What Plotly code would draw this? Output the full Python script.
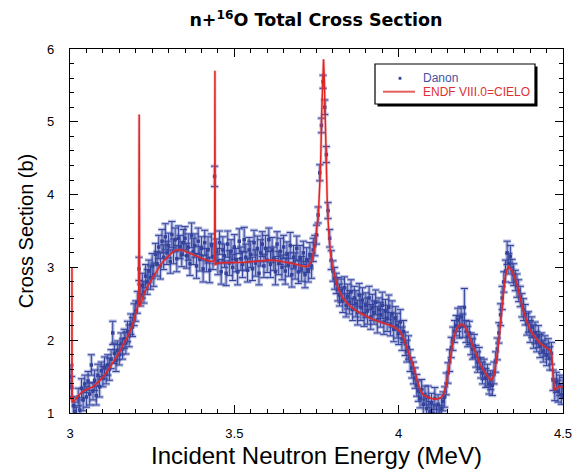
import numpy as np
import plotly.graph_objects as go

# ---------------- Danon data (E grid 3.000 .. 4.500 step 0.005) ----------------
danon_E = np.round(np.arange(3.0, 4.5001, 0.005), 3)
danon_xs = [
    1.50, 1.36, 1.10, 1.02, 0.94, 1.22, 1.04, 1.34, 1.18, 1.40,
    1.22, 1.44, 1.26, 1.66, 1.30, 1.45, 1.24, 1.52, 1.36, 1.58,
    1.50, 1.62, 1.53, 1.66, 1.60, 1.74, 2.10, 1.82, 1.72, 1.86,
    1.80, 1.95, 1.88, 2.02, 1.96, 2.12, 2.06, 2.22, 2.18, 2.35,
    2.40, 2.52, 2.98, 2.62, 2.75, 2.66, 2.88, 2.80, 2.95, 2.86,
    3.02, 2.90, 3.18, 3.05, 3.28, 3.02, 3.36, 3.14, 3.42, 3.20,
    3.30, 3.08, 3.45, 3.22, 3.38, 3.12, 3.40, 3.28, 3.18, 3.34,
    3.40, 3.16, 3.28, 3.05, 3.44, 3.22, 3.30, 3.02, 3.36, 3.12,
    3.26, 2.98, 3.34, 3.10, 3.24, 2.96, 3.30, 3.15, 4.25, 3.22,
    3.08, 3.34, 2.94, 3.24, 3.16, 2.92, 3.32, 3.06, 3.22, 3.00,
    3.28, 3.10, 2.94, 3.36, 3.12, 3.04, 3.38, 3.14, 2.96, 3.24,
    3.18, 2.98, 3.34, 3.06, 3.26, 2.92, 3.20, 3.32, 3.02, 3.26,
    3.10, 3.38, 3.04, 3.24, 3.12, 2.94, 3.32, 3.06, 3.22, 3.00,
    3.28, 2.95, 3.18, 3.04, 3.30, 2.90, 3.14, 3.02, 3.26, 2.94,
    3.12, 2.98, 3.20, 2.90, 3.10, 2.96, 3.16, 3.02, 3.24, 3.30,
    3.45, 3.72, 4.30, 4.95, 5.55, 5.20, 4.55, 3.78, 3.40, 3.10,
    2.95, 2.85, 2.78, 2.70, 2.62, 2.68, 2.55, 2.72, 2.48, 2.60,
    2.52, 2.66, 2.42, 2.58, 2.50, 2.38, 2.62, 2.45, 2.55, 2.35,
    2.48, 2.40, 2.58, 2.32, 2.45, 2.38, 2.52, 2.28, 2.42, 2.35,
    2.48, 2.25, 2.40, 2.30, 2.45, 2.22, 2.36, 2.15, 2.30, 2.20,
    2.10, 2.25, 2.02, 2.12, 1.95, 1.85, 1.90, 1.72, 1.62, 1.55,
    1.48, 1.38, 1.30, 1.20, 1.32, 1.12, 1.24, 1.06, 1.22, 1.02,
    1.14, 0.98, 1.20, 0.96, 1.12, 0.95, 1.06, 1.16, 1.22, 1.40,
    1.55, 1.72, 1.90, 2.02, 2.12, 2.20, 2.28, 2.18, 2.32, 2.20,
    2.45, 2.12, 2.05, 2.10, 1.95, 1.88, 1.92, 1.78, 1.70, 1.75,
    1.62, 1.55, 1.60, 1.48, 1.52, 1.40, 1.45, 1.38, 1.55, 1.70,
    1.88, 2.10, 2.35, 2.58, 2.80, 2.95, 3.20, 3.05, 3.15, 2.95,
    2.90, 2.82, 2.75, 2.68, 2.60, 2.48, 2.42, 2.35, 2.22, 2.25,
    2.12, 2.18, 2.05, 2.10, 1.98, 2.05, 1.92, 1.96, 1.85, 1.92,
    1.80, 1.88, 1.75, 1.82, 1.45, 1.32, 1.42, 1.30, 1.38, 1.25,
    1.35,
]
danon_err = [
    0.16, 0.14, 0.12, 0.13, 0.14, 0.12, 0.14, 0.13, 0.15, 0.12,
    0.14, 0.13, 0.15, 0.14, 0.12, 0.14, 0.13, 0.15, 0.14, 0.12,
    0.14, 0.15, 0.13, 0.14, 0.15, 0.13, 0.16, 0.14, 0.15, 0.13,
    0.14, 0.15, 0.14, 0.13, 0.15, 0.14, 0.15, 0.14, 0.13, 0.15,
    0.14, 0.15, 0.16, 0.15, 0.17, 0.15, 0.16, 0.17, 0.15, 0.16,
    0.17, 0.16, 0.15, 0.17, 0.16, 0.18, 0.16, 0.17, 0.18, 0.16,
    0.17, 0.16, 0.18, 0.17, 0.16, 0.18, 0.17, 0.16, 0.17, 0.18,
    0.16, 0.17, 0.18, 0.16, 0.17, 0.18, 0.16, 0.17, 0.18, 0.17,
    0.16, 0.18, 0.17, 0.16, 0.18, 0.17, 0.16, 0.18, 0.14, 0.17,
    0.18, 0.16, 0.17, 0.18, 0.16, 0.17, 0.18, 0.17, 0.16, 0.18,
    0.17, 0.16, 0.18, 0.17, 0.16, 0.18, 0.17, 0.18, 0.16, 0.17,
    0.18, 0.16, 0.17, 0.18, 0.17, 0.16, 0.18, 0.17, 0.16, 0.18,
    0.17, 0.16, 0.18, 0.17, 0.16, 0.18, 0.17, 0.16, 0.18, 0.17,
    0.16, 0.18, 0.17, 0.16, 0.18, 0.17, 0.16, 0.18, 0.17, 0.16,
    0.18, 0.17, 0.16, 0.18, 0.17, 0.16, 0.18, 0.17, 0.16, 0.14,
    0.13, 0.11, 0.11, 0.10, 0.09, 0.10, 0.11, 0.11, 0.12, 0.13,
    0.14, 0.15, 0.14, 0.16, 0.15, 0.16, 0.17, 0.15, 0.16, 0.17,
    0.16, 0.17, 0.15, 0.16, 0.18, 0.17, 0.16, 0.18, 0.17, 0.16,
    0.17, 0.18, 0.16, 0.17, 0.18, 0.16, 0.17, 0.18, 0.16, 0.17,
    0.18, 0.17, 0.16, 0.18, 0.17, 0.16, 0.18, 0.17, 0.16, 0.17,
    0.16, 0.17, 0.16, 0.15, 0.16, 0.15, 0.16, 0.15, 0.14, 0.15,
    0.14, 0.15, 0.14, 0.13, 0.14, 0.15, 0.13, 0.14, 0.15, 0.14,
    0.13, 0.14, 0.15, 0.14, 0.13, 0.15, 0.14, 0.13, 0.14, 0.15,
    0.14, 0.15, 0.14, 0.16, 0.15, 0.14, 0.16, 0.15, 0.14, 0.16,
    0.26, 0.15, 0.14, 0.16, 0.15, 0.14, 0.16, 0.15, 0.14, 0.15,
    0.14, 0.15, 0.14, 0.13, 0.15, 0.14, 0.13, 0.14, 0.15, 0.14,
    0.15, 0.14, 0.15, 0.16, 0.14, 0.15, 0.16, 0.14, 0.15, 0.16,
    0.15, 0.14, 0.16, 0.15, 0.14, 0.16, 0.15, 0.14, 0.15, 0.14,
    0.15, 0.14, 0.16, 0.15, 0.14, 0.15, 0.16, 0.14, 0.15, 0.14,
    0.15, 0.14, 0.16, 0.15, 0.14, 0.15, 0.14, 0.15, 0.14, 0.13,
    0.14,
]

# ---------------- ENDF/B-VIII.0 = CIELO evaluation ----------------
endf_E = [
    3.000, 3.0055, 3.006, 3.0065, 3.010, 3.020, 3.030, 3.040, 3.050, 3.060,
    3.070, 3.080, 3.090, 3.100, 3.110, 3.120, 3.130, 3.140, 3.150, 3.160,
    3.170, 3.180, 3.190, 3.200, 3.205, 3.209, 3.2105, 3.212, 3.218, 3.225,
    3.235, 3.245, 3.255, 3.265, 3.275, 3.285, 3.295, 3.305, 3.315, 3.325,
    3.340, 3.355, 3.370, 3.385, 3.400, 3.420, 3.435, 3.440, 3.441, 3.442,
    3.450, 3.470, 3.500, 3.530, 3.560, 3.590, 3.610, 3.630, 3.650, 3.670,
    3.690, 3.705, 3.715, 3.725, 3.735, 3.745, 3.751, 3.756, 3.760, 3.763,
    3.766, 3.769, 3.7715, 3.774, 3.777, 3.780, 3.783, 3.787, 3.792, 3.798,
    3.805, 3.812, 3.820, 3.830, 3.845, 3.860, 3.880, 3.900, 3.920, 3.943,
    3.965, 3.984, 4.004, 4.015, 4.024, 4.035, 4.045, 4.055, 4.065, 4.075,
    4.086, 4.100, 4.116, 4.128, 4.136, 4.141, 4.146, 4.151, 4.156, 4.161,
    4.166, 4.173, 4.181, 4.191, 4.199, 4.207, 4.217, 4.227, 4.237, 4.247,
    4.258, 4.268, 4.276, 4.283, 4.288, 4.293, 4.298, 4.303, 4.308, 4.313,
    4.318, 4.323, 4.328, 4.334, 4.344, 4.352, 4.359, 4.369, 4.379, 4.390,
    4.400, 4.415, 4.430, 4.445, 4.461, 4.466, 4.469, 4.473, 4.479, 4.486,
    4.500,
]
endf_xs = [
    1.22, 1.18, 3.00, 1.16, 1.15, 1.21, 1.26, 1.30, 1.32, 1.34,
    1.36, 1.40, 1.44, 1.49, 1.55, 1.62, 1.69, 1.76, 1.83, 1.92,
    2.00, 2.09, 2.20, 2.36, 2.45, 2.52, 5.10, 2.46, 2.53, 2.63,
    2.73, 2.81, 2.88, 2.96, 3.03, 3.09, 3.14, 3.18, 3.22, 3.24,
    3.24, 3.21, 3.18, 3.15, 3.12, 3.09, 3.08, 3.10, 5.70, 3.04,
    3.06, 3.06, 3.06, 3.07, 3.08, 3.09, 3.10, 3.09, 3.08, 3.06,
    3.04, 3.02, 3.01, 3.02, 3.08, 3.28, 3.50, 3.75, 4.15, 4.50,
    5.15, 5.65, 5.86, 5.55, 4.95, 4.40, 3.85, 3.50, 3.22, 3.02,
    2.88, 2.77, 2.67, 2.58, 2.50, 2.44, 2.38, 2.33, 2.29, 2.25,
    2.22, 2.19, 2.12, 2.03, 1.91, 1.78, 1.64, 1.47, 1.32, 1.25,
    1.22, 1.20, 1.19, 1.21, 1.25, 1.32, 1.41, 1.57, 1.73, 1.88,
    2.00, 2.12, 2.19, 2.22, 2.20, 2.14, 2.03, 1.91, 1.79, 1.68,
    1.59, 1.52, 1.47, 1.45, 1.50, 1.59, 1.73, 1.91, 2.13, 2.37,
    2.62, 2.83, 2.95, 3.01, 2.96, 2.88, 2.78, 2.60, 2.41, 2.26,
    2.14, 2.04, 1.96, 1.91, 1.86, 1.80, 1.55, 1.32, 1.33, 1.36,
    1.36,
]

x_ticks = [3, 3.5, 4, 4.5]
x_ticklabels = ["3", "3.5", "4", "4.5"]
y_ticks = [1, 2, 3, 4, 5, 6]
legend_labels = ["Danon", "ENDF VIII.0=CIELO"]

BLUE = "rgb(52,66,155)"
HALO = "rgba(105,120,195,0.45)"
RED = "rgb(222,38,38)"
RED_HALO = "rgba(235,90,90,0.3)"

fig = go.Figure()

# light halo of the error bars
fig.add_trace(go.Scatter(
    x=danon_E, y=danon_xs, mode="markers",
    marker=dict(size=1, color="rgba(0,0,0,0)"),
    error_y=dict(type="data", array=danon_err, color=HALO, thickness=3.5, width=4),
    showlegend=False, hoverinfo="skip",
))
fig.add_trace(go.Scatter(
    x=danon_E, y=danon_xs, mode="markers", name=legend_labels[0],
    marker=dict(size=3.5, color=BLUE, symbol="square"),
    error_y=dict(type="data", array=danon_err, color=BLUE, thickness=1, width=3.5),
    showlegend=False,
))
fig.add_trace(go.Scatter(
    x=endf_E, y=endf_xs, mode="lines", line=dict(color=RED_HALO, width=3),
    showlegend=False, hoverinfo="skip",
))
fig.add_trace(go.Scatter(
    x=endf_E, y=endf_xs, mode="lines", name=legend_labels[1],
    line=dict(color=RED, width=1.5), showlegend=False,
))

L, R, T, B = 70, 13, 49, 56
W, H = 576, 469
pw, ph = W - L - R, H - T - B

def px(xp):
    return (xp - L) / pw

def py(yp):
    return (H - B - yp) / ph

# hand-drawn legend box (with drop shadow) like the original
shapes = [
    dict(type="rect", xref="paper", yref="paper", layer="above",
         x0=px(377.5), x1=px(537.5), y0=py(106.5), y1=py(66.5),
         fillcolor="black", line=dict(width=0)),
    dict(type="rect", xref="paper", yref="paper", layer="above",
         x0=px(375), x1=px(535), y0=py(104), y1=py(64),
         fillcolor="white", line=dict(color="black", width=1.2)),
    dict(type="rect", xref="paper", yref="paper", layer="above",
         x0=px(398.6), x1=px(401.4), y0=py(79.7), y1=py(76.9),
         fillcolor=BLUE, line=dict(width=0)),
    dict(type="line", xref="paper", yref="paper", layer="above",
         x0=px(383), x1=px(415), y0=py(91.7), y1=py(91.7),
         line=dict(color="rgb(228,95,95)", width=2)),
]
annotations = [
    dict(text=legend_labels[0], xref="paper", yref="paper", x=px(421), y=py(78.3),
         xanchor="left", yanchor="middle", showarrow=False,
         font=dict(size=12, color="rgb(70,80,165)")),
    dict(text=legend_labels[1], xref="paper", yref="paper", x=px(421), y=py(91.7),
         xanchor="left", yanchor="middle", showarrow=False,
         font=dict(size=12, color="rgb(222,50,50)")),
]

fig.update_layout(
    width=W, height=H,
    margin=dict(l=L, r=R, t=T, b=B),
    paper_bgcolor="white", plot_bgcolor="white",
    font=dict(family="Liberation Sans, Arial, sans-serif", color="black"),
    showlegend=False,
    title=dict(
        text="<b>n+<sup>16</sup>O Total Cross Section</b>",
        font=dict(family="DejaVu Sans, sans-serif", size=17.5, color="black"),
        x=px(316), xref="paper", xanchor="center",
        y=1 - 20 / H, yref="container", yanchor="middle",
    ),
    xaxis=dict(
        range=[3, 4.5], tickvals=x_ticks, ticktext=x_ticklabels,
        ticks="inside", ticklen=8, tickwidth=1, tickcolor="black",
        showline=True, linecolor="black", linewidth=1.2, mirror="allticks",
        showgrid=False, zeroline=False, automargin=False,
        tickfont=dict(size=13), ticklabelstandoff=8,
        minor=dict(dtick=0.05, ticks="inside", ticklen=4, tickcolor="black", showgrid=False),
        title=dict(text="Incident Neutron Energy (MeV)", font=dict(size=24), standoff=8),
    ),
    yaxis=dict(
        range=[1, 6], tickvals=y_ticks,
        ticks="inside", ticklen=8, tickwidth=1, tickcolor="black",
        showline=True, linecolor="black", linewidth=1.2, mirror="allticks",
        showgrid=False, zeroline=False, automargin=False,
        tickfont=dict(size=13), ticklabelstandoff=12,
        minor=dict(dtick=0.2, ticks="inside", ticklen=4, tickcolor="black", showgrid=False),
        title=dict(text="Cross Section (b)", font=dict(size=20), standoff=8),
    ),
    shapes=shapes,
    annotations=annotations,
)

fig.write_html("out.html")
